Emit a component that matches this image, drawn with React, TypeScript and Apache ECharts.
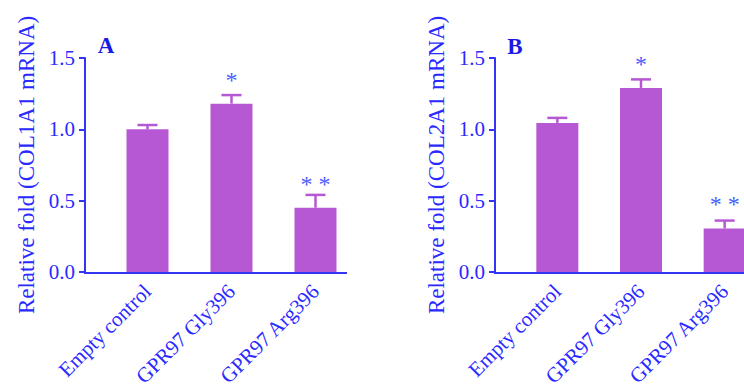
import React, { useEffect, useRef } from "react";
import * as echarts from "echarts";

const categories = ["Empty control", "GPR97 Gly396", "GPR97 Arg396"];
const meanA = [1.0, 1.18, 0.45];
const upperA = [1.03, 1.24, 0.54];
const meanB = [1.045, 1.29, 0.305];
const upperB = [1.08, 1.35, 0.36];
const stars = ["", "*", "* *"];
const yTicks = { min: 0, max: 1.5, interval: 0.5 };
const titleA = "Relative fold (COL1A1 mRNA)";
const titleB = "Relative fold (COL2A1 mRNA)";

const BAR = "#b657d4";
const AXIS = "#3434f5";
const TEXT = "#2a2aff";
const STAR = "#4a5cff";
const FONT = "Liberation Serif";

function errorSeries(idx: number, mean: number[], upper: number[]) {
  return {
    type: "custom",
    xAxisIndex: idx,
    yAxisIndex: idx,
    z: 5,
    data: categories.map((c, i) => [i, mean[i], upper[i]]),
    renderItem: (params: any, api: any) => {
      const i = api.value(0);
      const top = api.coord([i, api.value(1)]);
      const up = api.coord([i, api.value(2)]);
      const s = stars[i];
      const children: any[] = [
        {
          type: "line",
          shape: { x1: top[0], y1: top[1], x2: up[0], y2: up[1] },
          style: { stroke: BAR, lineWidth: 2.5 },
        },
        {
          type: "line",
          shape: { x1: up[0] - 10, y1: up[1], x2: up[0] + 10, y2: up[1] },
          style: { stroke: BAR, lineWidth: 2.5 },
        },
      ];
      if (s) {
        children.push({
          type: "text",
          x: top[0],
          y: top[1] - 24,
          style: {
            text: s,
            fill: STAR,
            fontSize: 24,
            fontFamily: FONT,
            align: "center",
            verticalAlign: "middle",
          },
        });
      }
      return { type: "group", children };
    },
  };
}

export default function App() {
  const ref = useRef<HTMLDivElement>(null);
  useEffect(() => {
    if (!ref.current) return;
    const chart = echarts.init(ref.current, null, { renderer: "svg" });
    const yAxisCommon = (gridIndex: number, name: string) => ({
      type: "value",
      gridIndex,
      min: yTicks.min,
      max: yTicks.max,
      interval: yTicks.interval,
      offset: 20.5,
      name,
      nameLocation: "middle",
      nameGap: 47,
      nameTextStyle: { color: TEXT, fontSize: 23, fontFamily: FONT },
      axisLine: { show: true, lineStyle: { color: AXIS, width: 2 } },
      axisTick: { show: true, length: 6, lineStyle: { color: AXIS, width: 2 } },
      axisLabel: {
        color: TEXT,
        fontSize: 21,
        fontFamily: FONT,
        margin: 10,
        formatter: (v: number) => v.toFixed(1),
      },
      splitLine: { show: false },
    });
    const xAxisCommon = (gridIndex: number) => ({
      type: "category",
      gridIndex,
      data: categories,
      axisLine: { show: false },
      axisTick: { show: false },
      axisLabel: {
        color: TEXT,
        fontSize: 21,
        fontFamily: FONT,
        rotate: 45,
        margin: 16,
        interval: 0,
      },
    });
    chart.setOption({
      animation: false,
      textStyle: { fontFamily: FONT },
      grid: [
        { left: 105.5, top: 58, width: 252, height: 215 },
        { left: 515.5, top: 58, width: 251, height: 215 },
      ],
      xAxis: [xAxisCommon(0), xAxisCommon(1)],
      yAxis: [yAxisCommon(0, titleA), yAxisCommon(1, titleB)],
      series: [
        {
          type: "bar",
          xAxisIndex: 0,
          yAxisIndex: 0,
          data: meanA,
          barWidth: 42,
          itemStyle: { color: BAR },
        },
        {
          type: "bar",
          xAxisIndex: 1,
          yAxisIndex: 1,
          data: meanB,
          barWidth: 42,
          itemStyle: { color: BAR },
        },
        errorSeries(0, meanA, upperA),
        errorSeries(1, meanB, upperB),
      ],
      graphic: [
        {
          type: "line",
          shape: { x1: 84, y1: 273, x2: 347, y2: 273 },
          style: { stroke: AXIS, lineWidth: 2 },
        },
        {
          type: "line",
          shape: { x1: 494, y1: 273, x2: 800, y2: 273 },
          style: { stroke: AXIS, lineWidth: 2 },
        },
        {
          type: "text",
          x: 106,
          y: 45,
          style: {
            text: "A",
            fill: "#1a1ae6",
            fontSize: 23,
            fontWeight: "bold",
            fontFamily: FONT,
            align: "center",
            verticalAlign: "middle",
          },
        },
        {
          type: "text",
          x: 515,
          y: 46,
          style: {
            text: "B",
            fill: "#1a1ae6",
            fontSize: 23,
            fontWeight: "bold",
            fontFamily: FONT,
            align: "center",
            verticalAlign: "middle",
          },
        },
      ],
    });
    return () => chart.dispose();
  }, []);
  return (
    <div
      style={{
        position: "fixed",
        left: 0,
        top: 0,
        width: 744,
        height: 390,
        overflow: "hidden",
        background: "#fff",
      }}
    >
      <div ref={ref} style={{ width: 800, height: 390 }} />
    </div>
  );
}
